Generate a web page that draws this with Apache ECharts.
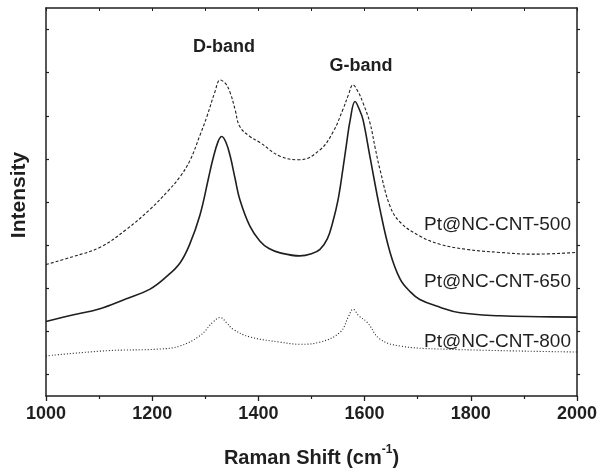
<!DOCTYPE html>
<html>
<head>
<meta charset="utf-8">
<script src="https://cdn.jsdelivr.net/npm/echarts@6/dist/echarts.min.js"></script>
<style>html,body{margin:0;padding:0;background:#fff}#c{width:600px;height:473px}</style>
</head>
<body>
<div id="c"></div>
<script>
// Raman shift (cm-1) and intensity (arbitrary, offset)
const shift500 = [1000,1050,1102,1150,1196,1230,1252,1271,1290,1303,1318,1328,1338,1347,1356,1365,1384,1403,1441,1478,1516,1540,1559,1570,1578,1588,1597,1610,1620,1629,1648,1667,1704,1742,1793,1855,1917,2000];
const int500   = [30.5,32.3,34.5,38.5,43.3,47.6,50.8,54.6,60.5,64.8,70.5,73.3,72.5,70.3,66.5,62.5,60.2,58.8,55.6,54.8,57.1,61.1,66.4,70.0,72.2,70.5,68.0,63.4,57.5,52.5,44.0,40.3,37.1,35.2,34.0,33.3,32.9,33.3];
const shift650 = [1000,1050,1100,1150,1196,1228,1252,1270,1290,1306,1314,1324,1331,1339,1347,1356,1365,1384,1403,1420,1441,1478,1500,1516,1530,1540,1550,1559,1566,1573,1582,1590,1597,1610,1629,1648,1667,1685,1704,1742,1780,1855,1930,2000];
const int650   = [17.3,18.8,20.2,22.5,24.8,27.8,30.8,35.0,42.0,50.5,54.8,59.0,60.2,58.8,55.6,50.5,45.6,39.4,35.9,34.2,33.2,32.5,33.0,34.0,36.5,40.3,45.5,52.5,58.5,64.1,68.3,66.5,64.1,55.6,43.3,33.3,27.1,24.3,22.4,20.6,19.3,18.6,18.4,18.3];
const shift800 = [1000,1114,1215,1252,1290,1315,1328,1340,1352,1384,1441,1478,1516,1554,1570,1578,1590,1605,1629,1667,1742,2000];
const int800   = [9.3,10.5,10.9,11.6,14.0,17.2,18.2,17.0,15.5,13.7,12.5,12.0,12.5,14.8,18.5,20.1,18.5,17.1,13.2,11.6,10.9,10.2];
const seriesNames = ['Pt@NC-CNT-500','Pt@NC-CNT-650','Pt@NC-CNT-800'];
const xTickLabels = ['1000','1200','1400','1600','1800','2000'];
const yTickValues = [5,15,25,35,45,55,65,75,85];

const zip = (a,b) => a.map((v,i)=>[v,b[i]]);
const ink = '#1f1f1f';
const chart = echarts.init(document.getElementById('c'), null, {renderer:'canvas'});
const axisLineStyle = {color: ink, width: 1.5};

chart.setOption({
  animation: false,
  backgroundColor: '#fff',
  grid: {left: 46, right: 23, top: 8, bottom: 76, containLabel: false},
  xAxis: [{
    type: 'value', min: 1000, max: 2000, interval: 200,
    axisLine: {show: true, onZero: false, lineStyle: axisLineStyle},
    axisTick: {show: true, inside: false, length: 5, lineStyle: {color: ink, width: 1.3}},
    minorTick: {show: true, splitNumber: 2, length: 3, lineStyle: {color: ink, width: 1.2}},
    splitLine: {show: false},
    axisLabel: {
      margin: 9, color: ink, fontFamily: 'Liberation Sans, Arial', fontWeight: 'bold', fontSize: 18,
      formatter: v => xTickLabels.includes(String(v)) ? String(v) : ''
    },
    name: '{m|Raman Shift (cm}{s|-1}{m|)}',
    nameLocation: 'middle', nameGap: 48,
    nameTextStyle: {
      rich: {
        m: {fontFamily: 'Liberation Sans, Arial', fontWeight: 'bold', fontSize: 20, color: ink, verticalAlign: 'bottom', lineHeight: 24},
        s: {fontFamily: 'Liberation Sans, Arial', fontWeight: 'bold', fontSize: 12, color: ink, verticalAlign: 'top', padding: [0,0,12,0], lineHeight: 24}
      }
    }
  }, {
    type: 'value', min: 1000, max: 2000, interval: 200, position: 'top',
    axisLine: {show: true, onZero: false, lineStyle: axisLineStyle},
    axisTick: {show: true, inside: true, length: 3, lineStyle: {color: ink, width: 1}},
    minorTick: {show: true, splitNumber: 2, length: 3, lineStyle: {color: ink, width: 1}},
    splitLine: {show: false},
    axisLabel: {show: false}
  }],
  yAxis: [{
    type: 'value', min: 0, max: 90,
    axisLine: {show: true, onZero: false, lineStyle: axisLineStyle},
    axisTick: {show: true, inside: true, length: 3, customValues: yTickValues, lineStyle: {color: ink, width: 1.2}},
    splitLine: {show: false},
    axisLabel: {show: false}
  }, {
    type: 'value', min: 0, max: 90, position: 'right',
    axisLine: {show: true, onZero: false, lineStyle: axisLineStyle},
    axisTick: {show: true, inside: false, length: 3, customValues: yTickValues, lineStyle: {color: ink, width: 1.2}},
    splitLine: {show: false},
    axisLabel: {show: false}
  }],
  series: [
    {name: seriesNames[0], type: 'line', data: zip(shift500, int500), showSymbol: false, smooth: 0.4,
     lineStyle: {color: ink, width: 1.1, type: [3, 2]}},
    {name: seriesNames[1], type: 'line', data: zip(shift650, int650), showSymbol: false, smooth: 0.4,
     lineStyle: {color: ink, width: 1.6, type: 'solid'}},
    {name: seriesNames[2], type: 'line', data: zip(shift800, int800), showSymbol: false, smooth: 0.4,
     lineStyle: {color: ink, width: 1.1, type: [1, 2]}}
  ],
  graphic: [
    {type: 'text', x: 19, y: 195, rotation: Math.PI/2,
     style: {text: 'Intensity', fontFamily: 'Liberation Sans, Arial', fontWeight: 'bold', fontSize: 21, fill: ink, align: 'center', verticalAlign: 'middle'}},
    {type: 'text', x: 224, y: 47,
     style: {text: 'D-band', fontFamily: 'Liberation Sans, Arial', fontWeight: 'bold', fontSize: 18, fill: ink, align: 'center', verticalAlign: 'middle'}},
    {type: 'text', x: 361, y: 66,
     style: {text: 'G-band', fontFamily: 'Liberation Sans, Arial', fontWeight: 'bold', fontSize: 18, fill: ink, align: 'center', verticalAlign: 'middle'}},
    {type: 'text', x: 571, y: 225,
     style: {text: seriesNames[0], fontFamily: 'Liberation Sans, Arial', fontSize: 19, fill: ink, align: 'right', verticalAlign: 'middle'}},
    {type: 'text', x: 571, y: 282,
     style: {text: seriesNames[1], fontFamily: 'Liberation Sans, Arial', fontSize: 19, fill: ink, align: 'right', verticalAlign: 'middle'}},
    {type: 'text', x: 571, y: 342,
     style: {text: seriesNames[2], fontFamily: 'Liberation Sans, Arial', fontSize: 19, fill: ink, align: 'right', verticalAlign: 'middle'}}
  ]
});
</script>
</body>
</html>
